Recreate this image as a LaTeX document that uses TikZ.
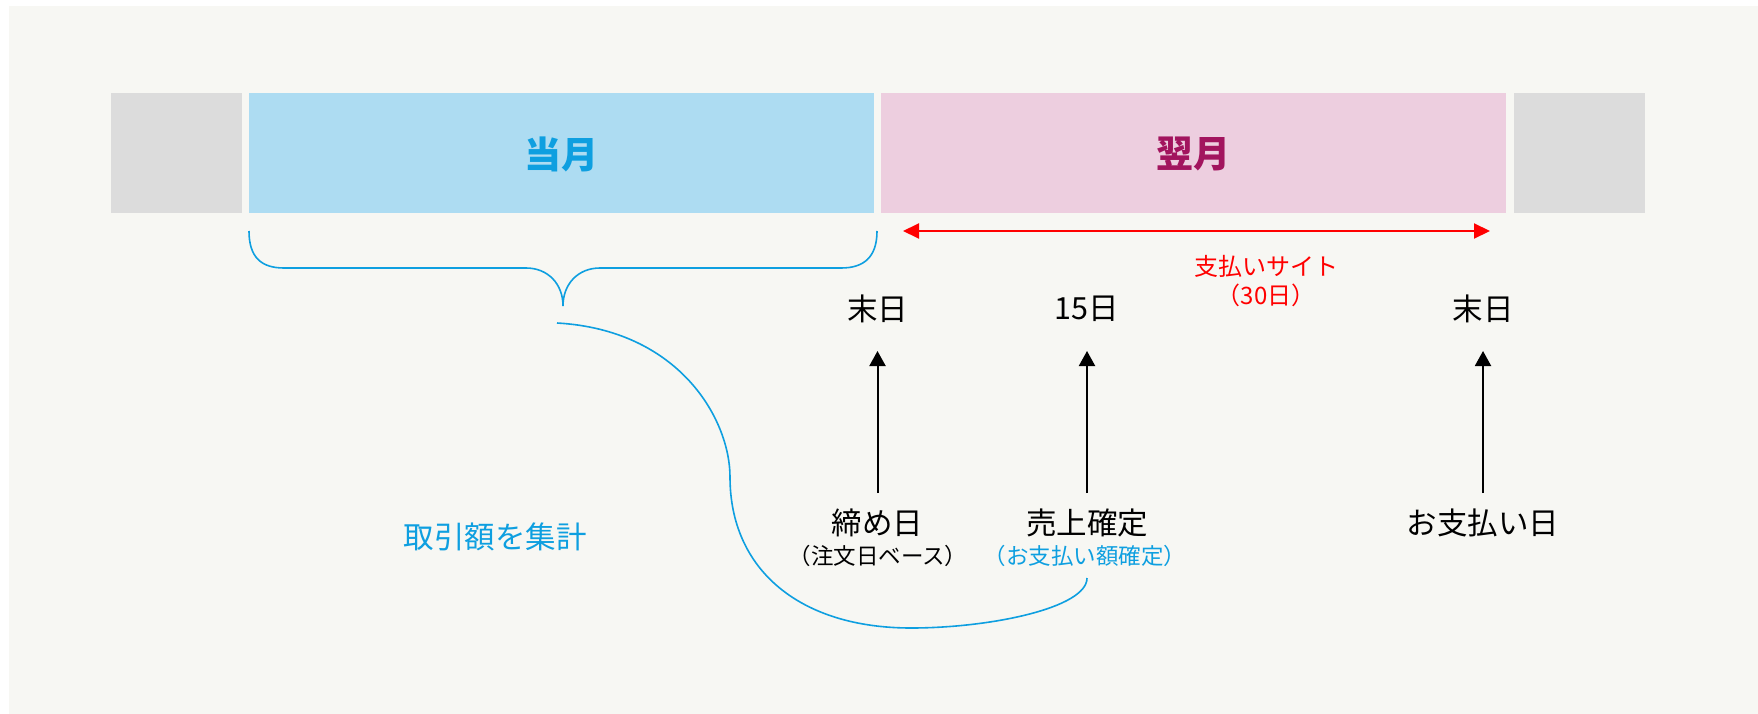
\documentclass[tikz,border=0pt]{standalone}
\usepackage{fontspec}
\setmainfont{Noto Sans CJK JP}
\usetikzlibrary{arrows.meta}
\definecolor{bgc}{HTML}{F7F7F3}
\definecolor{grayc}{HTML}{DCDCDC}
\definecolor{bluefill}{HTML}{ADDCF2}
\definecolor{pinkfill}{HTML}{EDCEDF}
\definecolor{bluec}{HTML}{0E9FE0}
\definecolor{magc}{HTML}{A2145E}
\definecolor{redc}{HTML}{FF0000}
\begin{document}
\begin{tikzpicture}[x=1pt,y=-1pt,
  lbl/.style={inner sep=0pt,font=\fontsize{30.5}{34}\selectfont,text=black},
  sub/.style={inner sep=0pt,font=\fontsize{22.5}{26}\selectfont},
  redtxt/.style={inner sep=0pt,font=\fontsize{24}{28}\selectfont,text=redc},
  title/.style={inner sep=0pt,font=\fontsize{37}{42}\selectfont\bfseries},
  blk/.style={line width=2pt,draw=black,-{Triangle[length=15pt,width=16pt]}},
  redarr/.style={line width=2pt,draw=redc,{Triangle[length=16pt,width=15pt]}-{Triangle[length=16pt,width=15pt]}},
  bluel/.style={line width=1.6pt,draw=bluec}]
\useasboundingbox (0,0) rectangle (1758,714);
\fill[white] (0,0) rectangle (1758,714);
\fill[bgc] (9,6) rectangle (1758,714);
% month boxes
\fill[grayc] (111,93) rectangle (242,213);
\fill[bluefill] (249,93) rectangle (874,213);
\fill[pinkfill] (881,93) rectangle (1506,213);
\fill[grayc] (1514,93) rectangle (1645,213);
\node[title,text=bluec] (tougetsu) at (561.5,154) {当月};
\node[title,text=magc] (yokugetsu) at (1193.5,154) {翌月};
% payment site arrow
\coordinate (siteL) at (903,231);
\coordinate (siteR) at (1490,231);
\draw[redarr] (siteL) -- (siteR);
\node[redtxt] (site) at (1266,266) {支払いサイト};
\node[redtxt] (site30) at (1266,295) {（30日）};
% top day labels
\node[lbl] (matsu1) at (877.5,309) {末日};
\node[lbl] (jugo) at (1087,309) {15日};
\node[lbl] (matsu2) at (1483,309) {末日};
% bottom labels
\node[lbl] (shime) at (877.5,523) {締め日};
\node[sub] (shimesub) at (878,556) {（注文日ベース）};
\node[lbl] (uriage) at (1087,523) {売上確定};
\node[sub,text=bluec] (uriagesub) at (1085,556) {（お支払い額確定）};
\node[lbl] (oshiharai) at (1483,523) {お支払い日};
\node[lbl,text=bluec] (shukei) at (495,537) {取引額を集計};
% vertical arrows
\draw[blk] ([yshift=30pt]shime.center) -- ([yshift=-42pt]matsu1.center);
\draw[blk] ([yshift=30pt]uriage.center) -- ([yshift=-42pt]jugo.center);
\draw[blk] ([yshift=30pt]oshiharai.center) -- ([yshift=-42pt]matsu2.center);
% brace under current month
\coordinate (braceTip) at (563,306);
\draw[bluel] (249,231) .. controls (249,258) and (262,268) .. (284,268)
  -- (526,268) .. controls (548,268) and (563,284) .. (braceTip)
  .. controls (563,284) and (578,268) .. (600,268)
  -- (841,268) .. controls (863,268) and (877,258) .. (877,231);
% S-curve to sales confirmation
\coordinate (curveStart) at (557,323);
\draw[bluel] (curveStart) .. controls (680,330) and (730,420) .. (730,477)
  .. controls (730,570) and (800,628) .. (911,628)
  .. controls (990,628) and (1087,608) .. ([yshift=-22pt,xshift=2pt]uriagesub.center);
\end{tikzpicture}
\end{document}
